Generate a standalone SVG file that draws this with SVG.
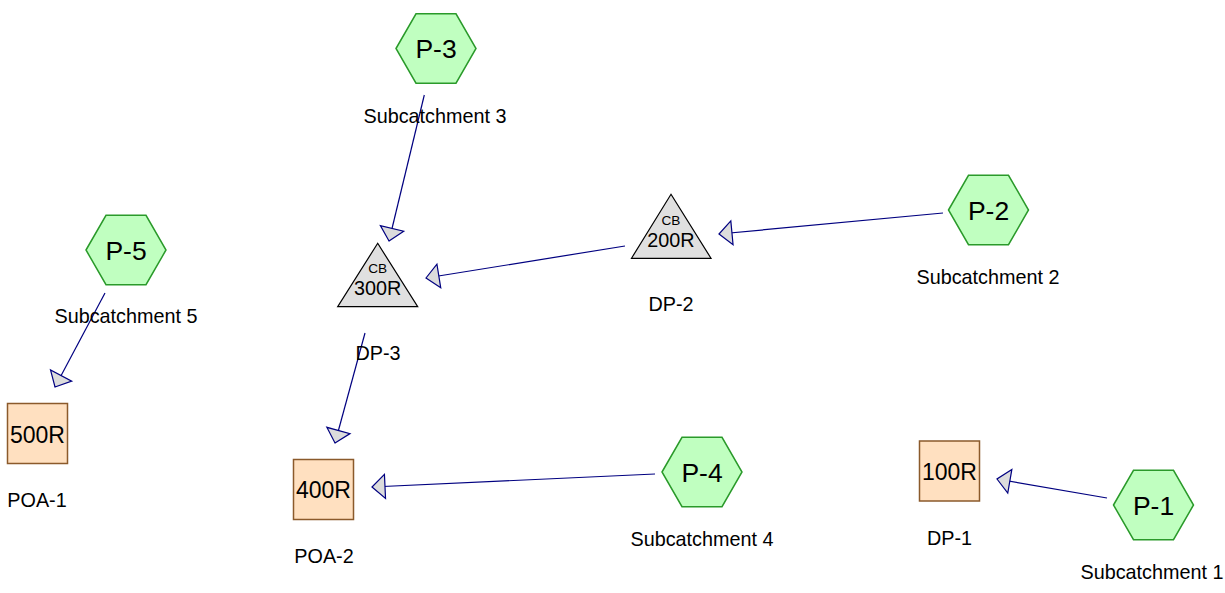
<svg xmlns="http://www.w3.org/2000/svg" xmlns:xlink="http://www.w3.org/1999/xlink" width="1225" height="593" viewBox="0 0 1225 593">
<style>
text{font-family:"Liberation Sans",Arial,sans-serif;fill:#000;text-anchor:middle}
.hex{fill:#c0ffc0;stroke:#2a9a2a;stroke-width:1.5}
.tri{fill:#e0e0e0;stroke:#000;stroke-width:1.2}
.sq{fill:#ffe0c0;stroke:#8b5a2b;stroke-width:1.5}
.hl{font-size:26.5px}
.tl{font-size:19.8px}
.cb{font-size:13.6px}
.sl{font-size:23px}
.lb{font-size:19.8px}
.edge{stroke:#000080;stroke-width:1.2;fill:none;marker-end:url(#ah)}
</style>
<defs>
<polygon id="hexshape" class="hex" points="-40,0 -20,-34.64 20,-34.64 40,0 20,34.64 -20,34.64"/>
<marker id="ah" markerUnits="userSpaceOnUse" markerWidth="16" markerHeight="28" refX="14" refY="13" orient="auto" overflow="visible">
<path d="M14,13 L1,1 L1,25 Z" fill="#dcdcdc" stroke="#000080" stroke-width="1.2"/>
</marker>
</defs>
<rect width="1225" height="593" fill="#fff"/>
<g id="connectors">
<line class="edge" x1="424.3" y1="95" x2="389" y2="241"/>
<line class="edge" x1="625" y1="246" x2="426" y2="278"/>
<line class="edge" x1="943" y1="213" x2="719" y2="234"/>
<line class="edge" x1="105" y1="293" x2="55" y2="387"/>
<line class="edge" x1="365" y1="333" x2="335" y2="443"/>
<line class="edge" x1="655" y1="474" x2="372" y2="487"/>
<line class="edge" x1="1107" y1="498" x2="997" y2="479"/>
</g>
<g id="P-3"><use xlink:href="#hexshape" x="436" y="48.5"/><text class="hl" x="436" y="58">P-3</text><text class="lb" x="435" y="122.7">Subcatchment 3</text></g>
<g id="P-5"><use xlink:href="#hexshape" x="126" y="250"/><text class="hl" x="126" y="259.5">P-5</text><text class="lb" x="126" y="322.7">Subcatchment 5</text></g>
<g id="P-2"><use xlink:href="#hexshape" x="988.5" y="210"/><text class="hl" x="988.5" y="219.5">P-2</text><text class="lb" x="988" y="284">Subcatchment 2</text></g>
<g id="P-4"><use xlink:href="#hexshape" x="702" y="472"/><text class="hl" x="702" y="481.5">P-4</text><text class="lb" x="702" y="545.5">Subcatchment 4</text></g>
<g id="P-1"><use xlink:href="#hexshape" x="1153.5" y="505"/><text class="hl" x="1153.5" y="514.5">P-1</text><text class="lb" x="1152" y="579">Subcatchment 1</text></g>
<g id="DP-3"><polygon class="tri" points="377.7,243.3 417.7,306.7 337.7,306.7"/><text class="cb" x="377.7" y="273.3">CB</text><text class="tl" x="377.7" y="295">300R</text><text class="lb" x="378" y="360">DP-3</text></g>
<g id="DP-2"><polygon class="tri" points="671,194.3 711,258.3 631.5,258.3"/><text class="cb" x="671" y="225">CB</text><text class="tl" x="671" y="246.7">200R</text><text class="lb" x="671" y="310.7">DP-2</text></g>
<g id="POA-1"><rect class="sq" x="7.5" y="403.5" width="60" height="60"/><text class="sl" x="37.5" y="442.7">500R</text><text class="lb" x="37" y="506.7">POA-1</text></g>
<g id="POA-2"><rect class="sq" x="293.5" y="459.5" width="60" height="60"/><text class="sl" x="323.5" y="498.3">400R</text><text class="lb" x="324" y="563.3">POA-2</text></g>
<g id="DP-1"><rect class="sq" x="919.5" y="441" width="60" height="60"/><text class="sl" x="949.5" y="480">100R</text><text class="lb" x="949.5" y="545">DP-1</text></g>
</svg>
